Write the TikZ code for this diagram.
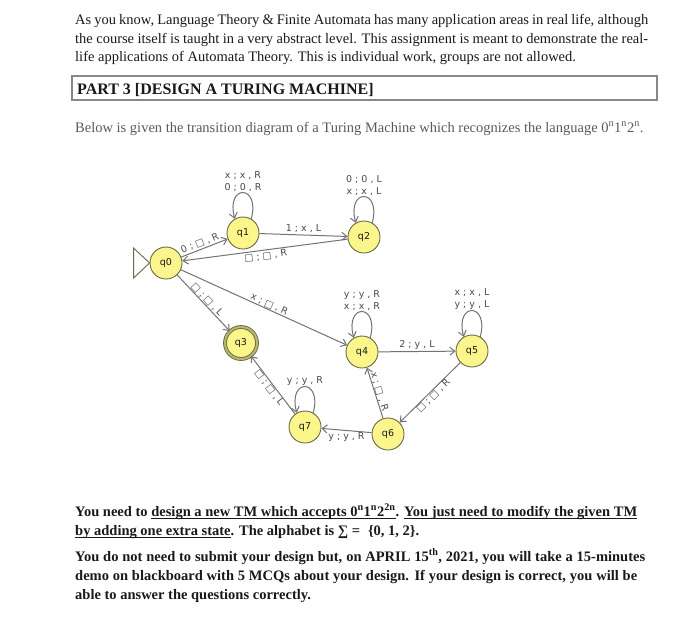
\documentclass[tikz,border=0pt]{standalone}
\usepackage{fontspec}
\setmainfont{Liberation Serif}
\newfontfamily\jfont{DejaVu Sans}
\usetikzlibrary{positioning, calc, arrows.meta}

\definecolor{stateyellow}{RGB}{250,246,140}
\definecolor{stateline}{RGB}{105,105,70}
\definecolor{edgegray}{RGB}{115,115,115}
\definecolor{labgray}{RGB}{75,75,75}
\definecolor{inkblack}{RGB}{25,25,25}
\definecolor{inkgray}{RGB}{90,90,90}
\definecolor{boxgray}{RGB}{135,135,135}

% blank symbol and transition label
\newcommand{\blk}{□}
\newcommand{\tr}[3]{#1 ; #2 , #3}

% underlined word and underlined space
\newcommand{\ulw}[1]{\setbox0\hbox{#1}\rlap{\rule[-2.8pt]{\wd0}{0.8pt}}\box0}
\newcommand{\uls}{\leaders\hrule height -2.0pt depth 2.8pt\hskip\fontdimen2\font plus\fontdimen3\font minus\fontdimen4\font\relax}

\tikzset{
  state/.style={circle, draw=stateline, fill=stateyellow, line width=0.9pt,
    minimum size=32pt, inner sep=0pt, text=inkblack,
    font=\jfont\fontsize{9.5}{11}\selectfont},
  accept/.style={state, double=stateyellow!55!stateline, double distance=2pt},
  trans/.style={draw=edgegray, line width=1pt,
    -{Straight Barb[length=5pt,width=8pt]}},
  lab/.style={text=labgray, inner sep=1.5pt,
    font=\jfont\fontsize{9.5}{12}\selectfont},
  txt/.style={inner sep=0pt, anchor=base west, text=inkblack,
    font=\fontsize{14.5}{17}\selectfont},
  boldtxt/.style={txt, font=\fontsize{14.5}{17}\selectfont\bfseries}
}

\begin{document}
\begin{tikzpicture}[x=1pt, y=-1pt]
  \fill[white] (0,0) rectangle (700,638);
  \useasboundingbox (0,0) rectangle (700,638);

  % 1. Introduction paragraph
  \node[txt] (intro1) at (75,24) {\makebox[573pt][s]{As you know, Language Theory \& Finite Automata has many application areas in real life, although}};
  \node[txt] (intro2) at (75,43) {\makebox[573pt][s]{the course itself is taught in a very abstract level. This assignment is meant to demonstrate the real-}};
  \node[txt] (intro3) at (75,61) {life applications of Automata Theory. This is individual work, groups are not allowed.};

  % 2. Heading box
  \draw[boxgray, line width=1.2pt] (72,76) rectangle (657,100);
  \node[txt, font=\fontsize{16}{18}\selectfont\bfseries] (head) at (77,94) {PART 3 [DESIGN A TURING MACHINE]};

  \node[txt, text=inkgray] (below) at (75,132) {Below is given the transition diagram of a Turing Machine which recognizes the language 0\textsuperscript{n}1\textsuperscript{n}2\textsuperscript{n}.};

  % 3. States
  \node[state] (q0) at (166,263) {q0};
  \node[state] (q1) at (243,233) {q1};
  \node[state] (q2) at (364,237) {q2};
  \node[accept] (q3) at (241,343) {q3};
  \node[state] (q4) at (362,352) {q4};
  \node[state] (q5) at (472,351) {q5};
  \node[state] (q6) at (388,434) {q6};
  \node[state] (q7) at (305,427) {q7};

  % start marker on q0
  \draw[stateline, line width=0.9pt, fill=white] (q0.west) -- ++(-16,15) -- ++(0,-30) -- cycle;

  % 4. Transitions
  \draw[trans] (q0) -- node[lab, sloped, above, pos=0.45] {\tr{0}{\blk}{R}} (q1);
  \draw[trans] (q1) -- node[lab, above] {\tr{1}{x}{L}} (q2);
  \draw[trans] (q2) -- node[lab, sloped, below] {\tr{\blk}{\blk}{R}} (q0);
  \draw[trans] (q0) -- node[lab, sloped, above, inner sep=0.5pt] {\tr{\blk}{\blk}{L}} (q3);
  \draw[trans] (q0) -- node[lab, sloped, above, inner sep=0.5pt, pos=0.52] {\tr{x}{\blk}{R}} (q4);
  \draw[trans] (q4) -- node[lab, above] {\tr{2}{y}{L}} (q5);
  \draw[trans] (q5) -- node[lab, sloped, below, inner sep=0pt] {\tr{\blk}{\blk}{R}} (q6);
  \draw[trans] (q6) -- node[lab, sloped, above, inner sep=0pt] {\tr{x}{\blk}{R}} (q4);
  \draw[trans] (q6) -- node[lab, below] {\tr{y}{y}{R}} (q7);
  \draw[trans] (q7) -- node[lab, sloped, below, inner sep=0pt] {\tr{\blk}{\blk}{L}} (q3);

  % 5. Self loops
  \draw[trans] (q1.60) .. controls +(75:36pt) and +(105:36pt) .. node[lab, above, inner sep=0.5pt, align=center] {\tr{x}{x}{R}\\\tr{0}{0}{R}} (q1.120);
  \draw[trans] (q2.60) .. controls +(75:36pt) and +(105:36pt) .. node[lab, above, inner sep=0.5pt, align=center] {\tr{0}{0}{L}\\\tr{x}{x}{L}} (q2.120);
  \draw[trans] (q4.60) .. controls +(75:36pt) and +(105:36pt) .. node[lab, above, inner sep=0.5pt, align=center] {\tr{y}{y}{R}\\\tr{x}{x}{R}} (q4.120);
  \draw[trans] (q5.60) .. controls +(75:36pt) and +(105:36pt) .. node[lab, above, inner sep=0.5pt, align=center] {\tr{x}{x}{L}\\\tr{y}{y}{L}} (q5.120);
  \draw[trans] (q7.60) .. controls +(75:36pt) and +(105:36pt) .. node[lab, above, inner sep=0.5pt] {\tr{y}{y}{R}} (q7.120);

  % 6. Task paragraph
  \node[boldtxt] (task1) at (75,516) {\makebox[562pt][s]{You need to \ulw{design}\uls\ulw{a}\uls\ulw{new}\uls\ulw{TM}\uls\ulw{which}\uls\ulw{accepts}\uls\ulw{0\textsuperscript{n}1\textsuperscript{n}2\textsuperscript{2n}}. \ulw{You}\uls\ulw{just}\uls\ulw{need}\uls\ulw{to}\uls\ulw{modify}\uls\ulw{the}\uls\ulw{given}\uls\ulw{TM}}};
  \node[boldtxt] (task2) at (75,535) {\ulw{by}\uls\ulw{adding}\uls\ulw{one}\uls\ulw{extra}\uls\ulw{state}. The alphabet is ∑ = \hspace{0.3em}\{0, 1, 2\}.};

  \node[boldtxt] (demo1) at (75,561) {\makebox[570pt][s]{You do not need to submit your design but, on APRIL 15\textsuperscript{th}, 2021, you will take a 15-minutes}};
  \node[boldtxt] (demo2) at (75,580) {\makebox[562pt][s]{demo on blackboard with 5 MCQs about your design. If your design is correct, you will be}};
  \node[boldtxt] (demo3) at (75,599) {able to answer the questions correctly.};
\end{tikzpicture}
\end{document}
